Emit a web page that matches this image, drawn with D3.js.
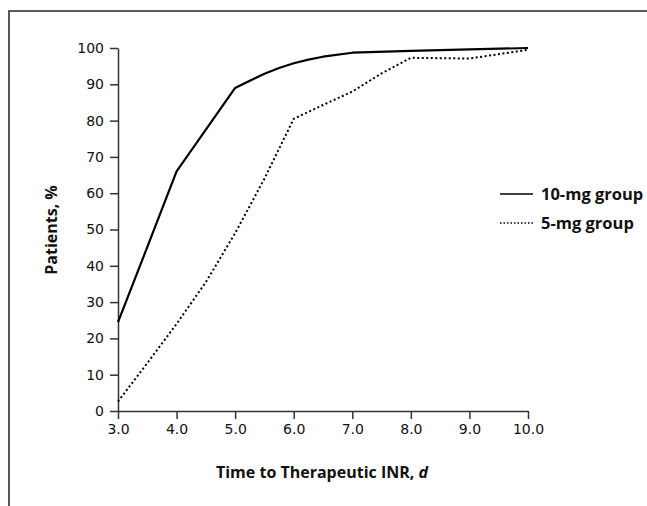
<!DOCTYPE html>
<html>
<head>
<meta charset="utf-8">
<style>
body { margin: 0; background: #fff; }
svg { display: block; font-family: "Open Sans", "DejaVu Sans", sans-serif; }
.axis path, .axis line { stroke: #333; stroke-width: 1.5; }
</style>
</head>
<body>
<svg width="647" height="506"></svg>
<script src="https://cdnjs.cloudflare.com/ajax/libs/d3/7.8.5/d3.min.js"></script>
<script>
// days to therapeutic INR
var days = [3.0, 3.4, 4.0, 5.0, 5.25, 5.5, 5.75, 6.0, 6.25, 6.5, 7.0, 8.0, 9.0, 10.0];
var group10 = [24.5, 41, 66, 89, 91, 92.9, 94.5, 95.8, 96.8, 97.6, 98.7, 99.2, 99.6, 100];

var days5 = [3.0, 3.5, 4.0, 4.5, 5.0, 5.5, 6.0, 6.5, 7.0, 7.5, 8.0, 9.0, 10.0];
var group5 = [2.6, 13.2, 24, 35.5, 49, 64, 80.5, 84.3, 88, 93, 97.3, 97.1, 99.5];

var xTicks = [3, 4, 5, 6, 7, 8, 9, 10];
var yTicks = [0, 10, 20, 30, 40, 50, 60, 70, 80, 90, 100];

var legendKeys = ["10-mg group", "5-mg group"];

var svg = d3.select("svg"),
    margin = {top: 48, right: 119, bottom: 95, left: 118},
    width = +svg.attr("width") - margin.left - margin.right,
    height = +svg.attr("height") - margin.top - margin.bottom;

// frame (top and left only)
svg.append("path")
    .attr("d", "M9,506V11H647")
    .attr("fill", "none")
    .attr("stroke", "#222")
    .attr("stroke-width", 1.5);

var g = svg.append("g").attr("transform", "translate(" + margin.left + "," + margin.top + ")");

var x = d3.scaleLinear().domain([3, 10]).range([0, width]);
var y = d3.scaleLinear().domain([0, 100]).range([height, 0]);

var xAxis = g.append("g")
    .attr("class", "axis")
    .attr("transform", "translate(0," + height + ")")
    .call(d3.axisBottom(x).tickValues(xTicks).tickFormat(d3.format(".1f")).tickSize(8).tickSizeOuter(0).tickPadding(5));

var yAxis = g.append("g")
    .attr("class", "axis")
    .call(d3.axisLeft(y).tickValues(yTicks).tickSize(8).tickSizeOuter(0).tickPadding(6));

[xAxis, yAxis].forEach(function(a) {
  a.attr("font-family", "DejaVu Sans").attr("font-size", 14);
  a.selectAll("text").attr("fill", "#111");
});

var line = d3.line()
    .x(function(d) { return x(d[0]); })
    .y(function(d) { return y(d[1]); });

g.append("path")
    .datum(d3.zip(days, group10))
    .attr("fill", "none")
    .attr("stroke", "#000")
    .attr("stroke-width", 2.2)
    .attr("stroke-linejoin", "round")
    .attr("d", line);

g.append("path")
    .datum(d3.zip(days5, group5))
    .attr("fill", "none")
    .attr("stroke", "#000")
    .attr("stroke-width", 2)
    .attr("stroke-dasharray", "2,2.5")
    .attr("d", line);

// axis titles
var xt = svg.append("text")
    .attr("x", 322)
    .attr("y", 478)
    .attr("text-anchor", "middle")
    .attr("font-size", 16)
    .attr("font-weight", "bold")
    .attr("fill", "#111");
xt.append("tspan").text("Time to Therapeutic INR, ");
xt.append("tspan").attr("font-style", "italic").text("d");

svg.append("text")
    .attr("transform", "translate(57,230) rotate(-90)")
    .attr("text-anchor", "middle")
    .attr("font-size", 16)
    .attr("font-weight", "bold")
    .attr("fill", "#111")
    .text("Patients, %");

// legend
var legend = svg.append("g")
  .selectAll("g")
  .data(legendKeys)
  .enter().append("g")
    .attr("transform", function(d, i) { return "translate(500," + (194 + i * 29) + ")"; });

legend.append("line")
    .attr("x1", 0).attr("x2", 33)
    .attr("stroke", "#000")
    .attr("stroke-width", 1.5)
    .attr("stroke-dasharray", function(d, i) { return i ? "1.5,2" : null; });

legend.append("text")
    .attr("x", 41)
    .attr("dy", "0.35em")
    .attr("font-size", 16.5)
    .attr("font-weight", "bold")
    .attr("fill", "#111")
    .text(function(d) { return d; });
</script>
</body>
</html>
